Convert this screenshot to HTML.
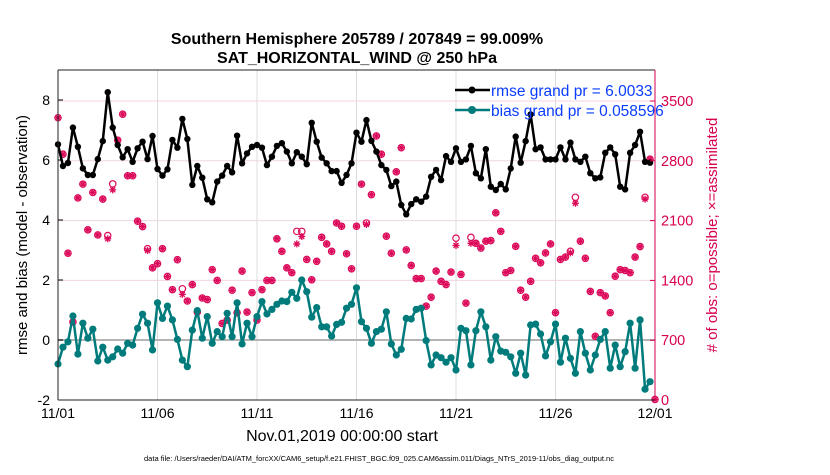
<!DOCTYPE html>
<html><head><meta charset="utf-8"><style>
body{margin:0;background:#fff;width:830px;height:470px;overflow:hidden;font-family:"Liberation Sans",Arial,sans-serif}
svg text{font-family:"Liberation Sans",Arial,sans-serif}
</style></head><body>
<svg id="chart" width="830" height="470" xmlns="http://www.w3.org/2000/svg">
<text x="357" y="44" font-size="16" font-weight="bold" text-anchor="middle">Southern Hemisphere 205789 / 207849 = 99.009%</text>
<text x="357" y="63" font-size="16" font-weight="bold" text-anchor="middle">SAT_HORIZONTAL_WIND @ 250 hPa</text>
<g id="grid"></g>
<g id="marks"></g>
<g id="axes"></g>
<text transform="translate(27,235) rotate(-90)" font-size="15" text-anchor="middle">rmse and bias (model - observation)</text>
<text transform="translate(717,235) rotate(-90)" font-size="15" fill="#d6004f" text-anchor="middle"># of obs: o=possible; ×=assimilated</text>
<text x="342" y="441" font-size="16" text-anchor="middle">Nov.01,2019 00:00:00 start</text>
<text x="379" y="461" font-size="7.5" text-anchor="middle">data file: /Users/raeder/DAI/ATM_forcXX/CAM6_setup/f.e21.FHIST_BGC.f09_025.CAM6assim.011/Diags_NTrS_2019-11/obs_diag_output.nc</text>
<g>
<line x1="455" y1="90" x2="490" y2="90" stroke="#000" stroke-width="2.5"/><circle cx="472" cy="90" r="3.5" fill="#000"/>
<text x="491" y="96" font-size="15.5" fill="#0a3cff">rmse grand pr = 6.0033</text>
<line x1="455" y1="110" x2="490" y2="110" stroke="#007b7b" stroke-width="2.5"/><circle cx="472" cy="110" r="4" fill="#007b7b"/>
<text x="491" y="116" font-size="15.5" fill="#0a3cff">bias grand pr = 0.058596</text>
</g>
</svg>
<script>
const xTickLabels=["11/01","11/06","11/11","11/16","11/21","11/26","12/01"];
const yTicksLeft=[-2,0,2,4,6,8];
const yTicksRight=[0,700,1400,2100,2800,3500];
const rmse=[6.52,5.8,5.9,7.08,6.44,5.72,5.5,5.5,6.03,6.63,8.26,7.08,6.5,6.09,6.36,5.94,6.39,6.61,6.03,6.8,5.7,5.48,5.69,6.67,6.41,7.37,6.7,5.17,5.8,5.41,4.69,4.59,5.28,5.48,5.8,5.59,6.81,5.89,6.22,6.44,6.5,
6.41,5.83,6.11,6.47,6.56,6.28,5.89,6.26,6.11,5.86,7.24,6.61,6.08,5.89,5.63,5.63,5.24,5.5,5.89,6.91,6.61,7.33,6.64,6.28,5.83,5.67,5.13,5.28,4.5,4.19,4.53,4.69,4.61,4.78,5.44,5.67,5.33,6.13,5.94,6.39,
5.94,6.02,6.47,5.56,5.39,6.36,5.11,5.0,5.2,5.02,5.72,6.78,5.91,6.63,7.52,6.36,6.42,6.02,6.02,6.02,6.42,6.02,6.58,6.02,5.94,6.11,5.56,5.39,5.42,6.24,6.42,6.19,5.11,5.02,6.24,6.5,6.94,5.94,5.91];
const bias=[-0.8,-0.24,-0.06,0.8,-0.47,0.56,0.06,0.36,-0.7,-0.24,-0.67,-0.56,-0.3,-0.44,-0.11,-0.17,0.39,0.86,0.56,-0.33,1.24,0.72,1.13,0.67,0.02,-0.67,-0.89,0.33,0.98,0.06,0.78,-0.11,0.28,0.11,0.89,0.11,1.24,-0.13,0.56,0.11,0.78,
1.28,0.87,1.02,1.19,1.3,1.28,1.59,1.39,2.0,1.61,0.76,1.08,0.44,0.44,0.13,0.52,0.59,1.06,1.19,1.74,0.61,0.39,-0.11,0.28,0.36,0.94,-0.13,-0.5,-0.31,0.72,0.7,1.02,1.06,-0.02,-0.83,-0.5,-0.59,-0.74,-0.59,-1.0,
0.39,0.31,-0.83,0.31,0.94,0.44,-0.67,0.11,-0.37,-0.41,-0.56,-1.11,-0.44,-1.17,0.5,0.53,0.2,-0.53,-0.06,0.53,-0.74,0.06,-0.61,-1.11,0.28,-0.44,-1.0,-0.5,0.02,0.28,-0.94,-0.17,-0.89,-0.39,0.56,-0.94,0.67,-1.64,-1.39];
const nPossible=[3304,2877,1719,914,2366,2527,1992,2429,1932,2352,1925,2530,3042,3346,2625,2625,2093,2030,1771,1547,1596,1771,1446,1292,1642,1302,1159,1351,1029,1194,1176,1526,1400,896,935,1285,1022,1509,1029,1257,935,
1292,1400,1400,1887,1740,1547,1491,1974,1974,1645,1407,1624,1904,1827,1740,2072,2034,1712,1536,2034,2527,2072,2404,3091,2877,1918,1719,2671,2954,1757,1575,1421,1421,1099,1204,1509,1389,1351,1498,1894,
1470,1134,1904,1834,1778,1859,1866,2191,1974,1491,1516,1799,1285,1204,1389,1659,1606,1722,1827,1022,1645,1673,1740,2373,1859,1659,1271,746,1257,1218,1022,1449,1526,1516,1491,1673,1796,2373,2819,7];
const nAssim=[3304,2877,1719,914,2366,2527,1992,2429,1932,2352,1887,2460,3042,3346,2625,2625,2093,2030,1750,1547,1596,1771,1446,1292,1642,1236,1159,1351,1029,1194,1176,1526,1400,896,935,1285,1022,1509,1029,1257,935,
1292,1400,1400,1887,1740,1547,1491,1827,1914,1645,1407,1624,1904,1827,1740,2072,2034,1712,1536,2034,2527,2055,2404,3091,2877,1918,1719,2671,2954,1757,1575,1421,1421,1099,1204,1509,1389,1351,1498,1809,
1470,1134,1834,1834,1778,1859,1866,2191,1974,1491,1516,1799,1285,1204,1389,1659,1606,1722,1827,1022,1645,1673,1722,2303,1859,1659,1271,746,1257,1218,1022,1449,1526,1516,1491,1673,1796,2352,2819,7];

const NS="http://www.w3.org/2000/svg";
const X0=58,X1=655,Y0=70,Y1=400;
const xDay=d=>X0+(X1-X0)*d/30;
const yL=v=>340-30*v;
const yR=c=>400-c*(299/3500);
function mk(tag,attrs,parent){const e=document.createElementNS(NS,tag);for(const k in attrs)e.setAttribute(k,attrs[k]);parent.appendChild(e);return e;}
const grid=document.getElementById('grid'),marks=document.getElementById('marks'),axes=document.getElementById('axes');
mk('rect',{x:X0,y:Y0,width:X1-X0,height:Y1-Y0,fill:'#fff'},grid);
xTickLabels.forEach((t,i)=>{const x=xDay(i*5);
  if(i>0&&i<6){const g=mk('line',{x1:x,y1:Y0,x2:x,y2:Y1,stroke:'#dcdcdc','stroke-width':1},grid);
  
  }
  const tx=mk('text',{x:x,y:418,'font-size':14,'text-anchor':'middle'},axes);tx.textContent=t;
  
  
});
yTicksRight.forEach(c=>{const y=yR(c);
  const g=mk('line',{x1:X0,y1:y,x2:X1,y2:y,stroke:'#f0d6e0','stroke-width':1},grid);
  
  
  const tx=mk('text',{x:661,y:y+5,'font-size':14.5,fill:'#d6004f'},axes);tx.textContent=c;
  
  
  mk('line',{x1:X1-5,y1:y,x2:X1,y2:y,stroke:'#d6004f'},axes);
});
yTicksLeft.forEach(v=>{const y=yL(v);
  const tx=mk('text',{x:50,y:y+5,'font-size':14,'text-anchor':'end'},axes);tx.textContent=v;
  
  
  mk('line',{x1:X0,y1:y,x2:X0+5,y2:y,stroke:'#000'},axes);
});
const zl=mk('line',{x1:X0,y1:yL(0),x2:X1,y2:yL(0),stroke:'#b4b4b4','stroke-width':2},grid);


mk('line',{x1:X0,y1:Y0,x2:X1,y2:Y0,stroke:'#222'},axes);
mk('line',{x1:X0,y1:Y1,x2:X1,y2:Y1,stroke:'#222'},axes);
mk('line',{x1:X0,y1:Y0,x2:X0,y2:Y1,stroke:'#222'},axes);
mk('line',{x1:X1,y1:Y0,x2:X1,y2:Y1,stroke:'#d6004f'},axes);
const pink='#dc0a5a';
nPossible.forEach((c,i)=>{const x=xDay(i/4);
  const ci=mk('circle',{cx:x,cy:yR(c),r:3.2,fill:'none',stroke:pink,'stroke-width':1.2},marks);
  
  
  const y=yR(nAssim[i]);
  const a=mk('path',{d:`M${x-3.5},${y}H${x+3.5}M${x},${y-3.5}V${y+3.5}M${x-2.5},${y-2.5}L${x+2.5},${y+2.5}M${x-2.5},${y+2.5}L${x+2.5},${y-2.5}`,stroke:pink,'stroke-width':1.3},marks);
  
  
});
function series(vals,color,r,name){
  const pts=vals.map((v,i)=>xDay(i/4)+','+yL(v)).join(' ');
  const pl=mk('polyline',{points:pts,fill:'none',stroke:color,'stroke-width':2.5,'stroke-linejoin':'round'},marks);
  
  
  vals.forEach((v,i)=>{const c=mk('circle',{cx:xDay(i/4),cy:yL(v),r:r,fill:color},marks);
    
    });
}
series(bias,'#007b7b',3.6,'bias');
series(rmse,'#000',3.2,'rmse');
</script>
</body></html>
